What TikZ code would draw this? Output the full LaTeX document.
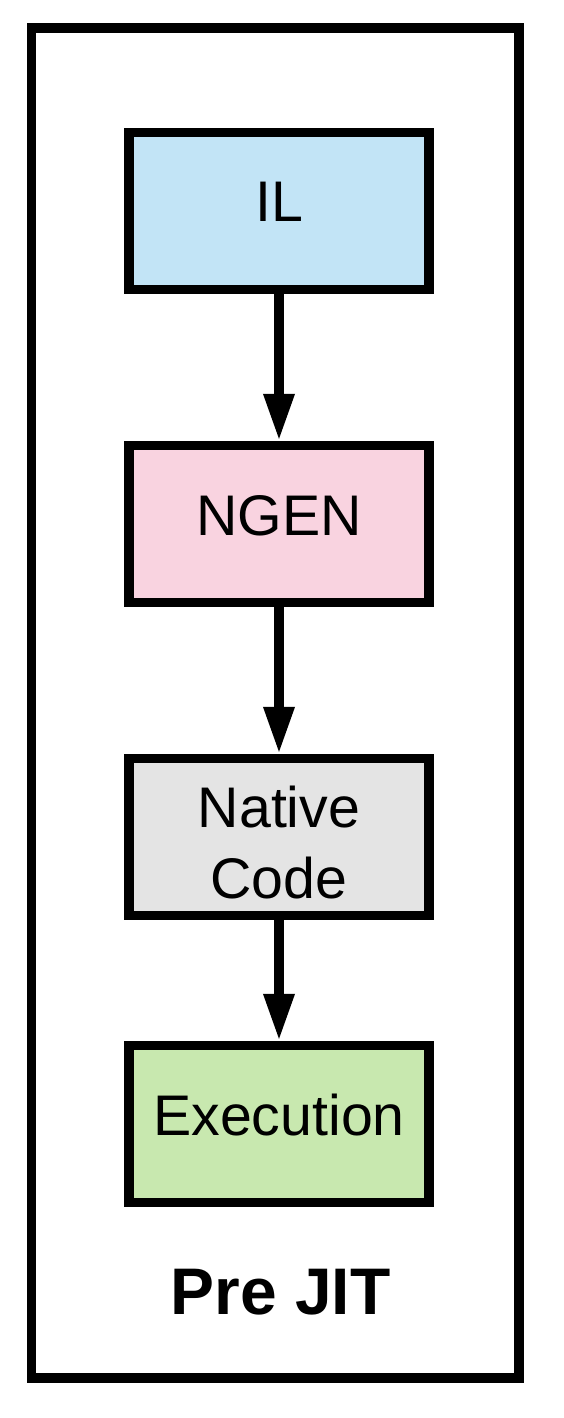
\documentclass[tikz,border=0pt]{standalone}
\usepackage{fontspec}
\setmainfont{Liberation Sans}
\usetikzlibrary{arrows.meta}
\definecolor{ilblue}{RGB}{194,228,246}
\definecolor{ngenpink}{RGB}{249,211,224}
\definecolor{nativegray}{RGB}{228,228,228}
\definecolor{execgreen}{RGB}{200,232,175}
\begin{document}
\begin{tikzpicture}[
    x=0.02cm, y=-0.02cm,
    stage/.style={draw=black, line width=0.19cm, rectangle, minimum width=6cm, minimum height=3.14cm, align=center, font=\fontsize{32.6pt}{40pt}\selectfont, text depth=0.36cm},
    frame/.style={draw=black, line width=0.19cm},
    arrow/.style={-{Triangle[width=0.58cm, length=0.94cm]}, line width=0.19cm, draw=black}
]
\useasboundingbox (0,0) rectangle (564,1418);

% outer box
\draw[frame] (31.5,28) rectangle (519,1378);

% IL
\node[stage, fill=ilblue] (il) at (279, 211) {IL};

% NGEN
\node[stage, fill=ngenpink] (ngen) at (279, 524) {NGEN};
\draw[arrow] (il) -- (ngen);

% Native Code
\node[stage, fill=nativegray, text depth=0pt, text height=2.44cm] (native) at (279, 837) {Native\\Code};
\draw[arrow] (ngen) -- (native);

% Execution
\node[stage, fill=execgreen] (exec) at (279, 1124) {Execution};
\draw[arrow] (native) -- (exec);

% caption
\node[font=\fontsize{37.5pt}{44pt}\selectfont\bfseries] (title) at (280.5, 1292) {Pre JIT};

\end{tikzpicture}
\end{document}
